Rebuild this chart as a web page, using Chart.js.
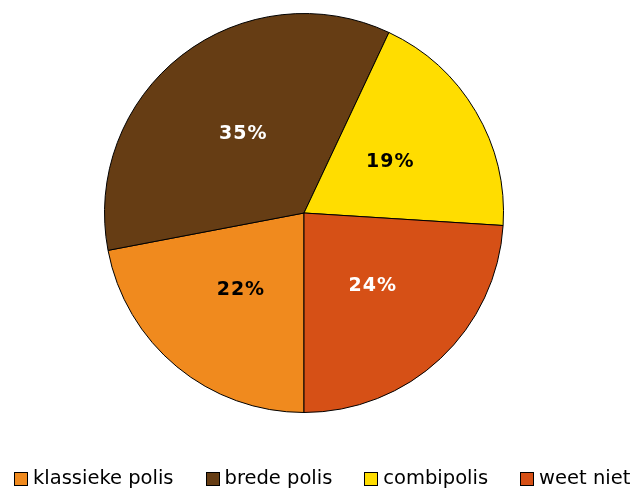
<!DOCTYPE html>
<html>
<head>
<meta charset="utf-8">
<script src="https://cdn.jsdelivr.net/npm/chart.js@4/dist/chart.umd.min.js"></script>
<style>
  html, body { margin: 0; padding: 0; background: #fff; }
  #wrap { position: relative; width: 638px; height: 491px; }
  #c { position: absolute; left: 0; top: 0; }
  #legend { position: absolute; left: 14px; top: 466px; display: flex; gap: 32px;
            font-family: "DejaVu Sans", Verdana, sans-serif; font-size: 19.5px; color: #000; white-space: nowrap; }
  .item { display: flex; align-items: center; }
  .box { width: 12px; height: 12px; border: 1px solid #000; margin-right: 5px; margin-top: 2px; }
</style>
</head>
<body>
<div id="wrap">
  <canvas id="c" width="638" height="491"></canvas>
  <div id="legend"></div>
</div>
<script>
const categories = ["klassieke polis", "brede polis", "combipolis", "weet niet"];
const values = [22, 35, 19, 24];
const colors = ["#F08A1E", "#663D14", "#FFDD00", "#D65016"];
const labelColors = ["#000000", "#FFFFFF", "#000000", "#FFFFFF"];

const pctLabels = {
  id: 'pctLabels',
  afterDatasetsDraw(chart) {
    const ctx = chart.ctx;
    const meta = chart.getDatasetMeta(0);
    meta.data.forEach((arc, i) => {
      const p = arc.getProps(['x', 'y', 'startAngle', 'endAngle', 'outerRadius'], true);
      const mid = (p.startAngle + p.endAngle) / 2;
      const r = p.outerRadius * 0.5;
      const x = p.x + Math.cos(mid) * r;
      const y = p.y + Math.sin(mid) * r;
      ctx.save();
      ctx.font = 'bold 19px "DejaVu Sans", Verdana, sans-serif';
      ctx.letterSpacing = '1px';
      ctx.fillStyle = labelColors[i];
      ctx.textAlign = 'center';
      ctx.textBaseline = 'middle';
      ctx.fillText(values[i] + '%', x + 0.5, y);
      ctx.restore();
    });
  }
};

new Chart(document.getElementById('c'), {
  type: 'pie',
  data: {
    labels: categories,
    datasets: [{
      data: values,
      backgroundColor: colors,
      borderColor: '#000000',
      borderWidth: 1
    }]
  },
  options: {
    responsive: false,
    animation: false,
    rotation: 180,
    layout: { padding: { top: 13, bottom: 78, left: 0, right: 30 } },
    plugins: { legend: { display: false }, tooltip: { enabled: false } }
  },
  plugins: [pctLabels]
});

const lg = document.getElementById('legend');
categories.forEach((name, i) => {
  const it = document.createElement('div');
  it.className = 'item';
  const b = document.createElement('span');
  b.className = 'box';
  b.style.background = colors[i];
  const t = document.createElement('span');
  t.textContent = name;
  it.appendChild(b);
  it.appendChild(t);
  lg.appendChild(it);
});
</script>
</body>
</html>
